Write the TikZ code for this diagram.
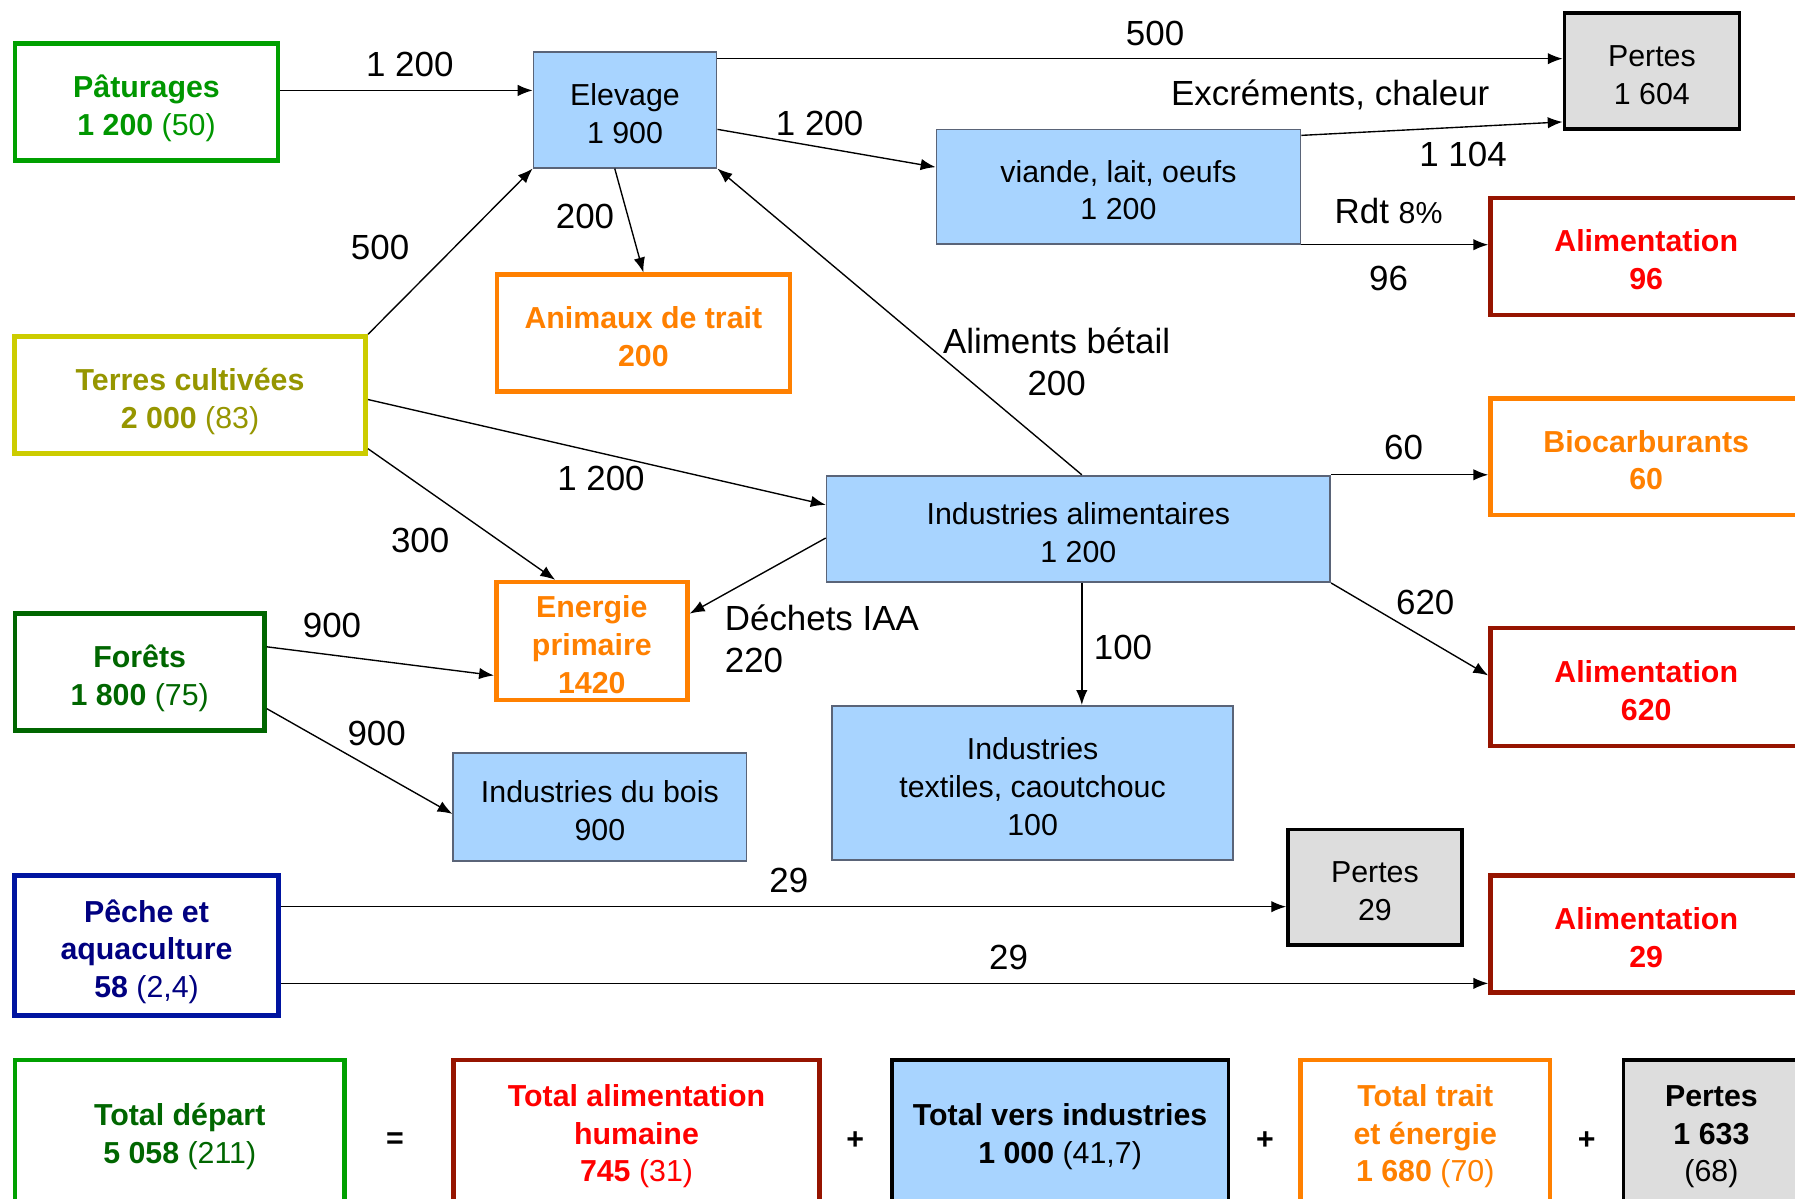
\documentclass[tikz,border=0pt]{standalone}
\usepackage{fontspec}
\setmainfont{Liberation Sans}
\usetikzlibrary{arrows.meta}
\definecolor{lblue}{RGB}{168,212,255}
\definecolor{bborder}{RGB}{90,100,120}
\definecolor{gpat}{RGB}{0,160,0}
\definecolor{gpattext}{RGB}{0,150,0}
\definecolor{olive1}{RGB}{204,204,0}
\definecolor{olivetext}{RGB}{150,150,0}
\definecolor{dgreen}{RGB}{0,102,0}
\definecolor{navyb}{RGB}{0,20,160}
\definecolor{navyt}{RGB}{0,0,128}
\definecolor{orng}{RGB}{255,128,0}
\definecolor{dred}{RGB}{150,20,0}
\definecolor{redt}{RGB}{255,0,0}
\definecolor{grayf}{RGB}{221,221,221}
\newcommand{\nfont}{\fontsize{26.5}{33}\selectfont}
\newcommand{\lfont}{\fontsize{30.5}{37}\selectfont}
\newcommand{\topstr}{\rule{0pt}{31pt}}
\newcommand{\botstr}{\rule[-6pt]{0pt}{0pt}}
\newcommand{\botstrB}{\rule[-20pt]{0pt}{0pt}}
\begin{document}
\begin{tikzpicture}[x=1pt,y=-1pt,
 bx/.style={rectangle, align=center, inner sep=0pt, font=\nfont},
 bluebox/.style={bx, draw=bborder, fill=lblue, line width=1.5pt},
 graybox/.style={bx, draw=black, fill=grayf, line width=3pt},
 colbox/.style={bx, draw=#1, line width=4pt, fill=white},
 lbl/.style={inner sep=0pt, font=\lfont},
 flow/.style={line width=1.2pt, -{Latex[length=13pt,width=10pt]}}
]
\useasboundingbox (0,0) rectangle (1568,1047);
\clip (0,0) rectangle (1568,1047);
\fill[white] (0,0) rectangle (1568,1047);

% boxes
\node[colbox=gpat, text=gpattext, minimum width=230pt, minimum height=102pt] (pat) at (128,89) {\topstr\bfseries Pâturages\\{\bfseries 1 200} (50)\botstr};
\node[bluebox, minimum width=160pt, minimum height=101pt] (elev) at (546,96) {\topstr Elevage\\1 900\botstr};
\node[graybox, minimum width=153pt, minimum height=101pt] (pertesA) at (1443,62) {\topstr Pertes\\1 604\botstr};
\node[bluebox, minimum width=318pt, minimum height=100pt] (viande) at (977,163) {\topstr viande, lait, oeufs\\1 200\botstr};
\node[colbox=dred, text=redt, minimum width=272pt, minimum height=102pt] (alimA) at (1438,224) {\topstr\bfseries Alimentation\\\bfseries 96\botstr};
\node[colbox=orng, text=orng, minimum width=256pt, minimum height=102pt] (anim) at (562,291) {\topstr\bfseries Animaux de trait\\\bfseries 200\botstr};
\node[colbox=olive1, text=olivetext, minimum width=307pt, minimum height=102pt] (terres) at (166,345) {\topstr\bfseries Terres cultivées\\{\bfseries 2 000} (83)\botstr};
\node[colbox=orng, text=orng, minimum width=272pt, minimum height=102pt] (bio) at (1438,399) {\topstr\bfseries Biocarburants\\\bfseries 60\botstr};
\node[bluebox, minimum width=440pt, minimum height=93pt] (ia) at (942,462) {\topstr Industries alimentaires\\1 200\botstr};
\node[colbox=orng, text=orng, minimum width=167pt, minimum height=102pt] (energ) at (517,560) {\topstr\bfseries Energie\\\bfseries primaire\\\bfseries 1420\botstr};
\node[colbox=dgreen, text=dgreen, minimum width=218pt, minimum height=102pt] (forets) at (122,587) {\topstr\bfseries Forêts\\{\bfseries 1 800} (75)\botstr};
\node[colbox=dred, text=redt, minimum width=272pt, minimum height=103pt] (alimB) at (1438,600) {\topstr\bfseries Alimentation\\\bfseries 620\botstr};
\node[bluebox, minimum width=256pt, minimum height=94pt] (bois) at (524,705) {\topstr Industries du bois\\900\botstr};
\node[bluebox, minimum width=350pt, minimum height=135pt] (textil) at (902,684) {\topstr Industries\\textiles, caoutchouc\\100\botstr};
\node[graybox, minimum width=152pt, minimum height=101pt] (pertesB) at (1201,775) {\topstr Pertes\\29\botstr};
\node[colbox=dred, text=redt, minimum width=272pt, minimum height=102pt] (alimC) at (1438,816) {\topstr\bfseries Alimentation\\\bfseries 29\botstr};
\node[colbox=navyb, text=navyt, minimum width=231pt, minimum height=122pt] (peche) at (128,826) {\topstr\bfseries Pêche et\\\bfseries aquaculture\\{\bfseries 58} (2,4)\botstr};

% bottom row
\node[colbox=gpat, text=dgreen, minimum width=288pt, minimum height=136pt] (totdep) at (157,994) {\topstr\bfseries Total départ\\{\bfseries 5 058} (211)\botstrB};
\node[bx, font=\nfont\bfseries] (eq) at (345,996) {=};
\node[colbox=dred, text=redt, minimum width=320pt, minimum height=136pt] (totalim) at (556,994) {\topstr\bfseries Total alimentation\\\bfseries humaine\\{\bfseries 745} (31)\botstrB};
\node[bx, font=\nfont\bfseries] (plA) at (747,996) {+};
\node[bx, draw=black, fill=lblue, line width=3pt, minimum width=294pt, minimum height=136pt] (totind) at (926,994) {\topstr\bfseries Total vers industries\\{\bfseries 1 000} (41,7)\botstrB};
\node[bx, font=\nfont\bfseries] (plB) at (1105,996) {+};
\node[colbox=orng, text=orng, minimum width=218pt, minimum height=136pt] (tottrait) at (1245,994) {\topstr\bfseries Total trait\\\bfseries et énergie\\{\bfseries 1 680} (70)\botstrB};
\node[bx, font=\nfont\bfseries] (plC) at (1386,996) {+};
\node[graybox, minimum width=154pt, minimum height=136pt] (pertesC) at (1495,994) {\topstr\bfseries Pertes\\\bfseries 1 633\\(68)\botstrB};

% connector anchors
\coordinate (c1) at ([yshift=10pt]pat.east);
\coordinate (c2) at ([yshift=-6.5pt]elev.north east);
\coordinate (c3a) at ([yshift=-17pt]elev.east);
\coordinate (c3b) at ([yshift=17pt]viande.west);
\coordinate (c4a) at ([yshift=-6pt]viande.north east);
\coordinate (c4b) at ([yshift=7.5pt]pertesA.south west);
\coordinate (c6a) at ([xshift=-9pt]elev.south);
\coordinate (c8) at ([xshift=3pt]ia.north);
\coordinate (c9a) at ([yshift=-4pt]terres.east);
\coordinate (c9b) at ([yshift=21pt]ia.west);
\coordinate (c10a) at ([yshift=6pt]terres.south east);
\coordinate (c10b) at ([xshift=-32pt]energ.north);
\coordinate (c11a) at ([yshift=-8pt]ia.west);
\coordinate (c11b) at ([yshift=24pt]energ.east);
\coordinate (c12a) at ([yshift=22pt]forets.east);
\coordinate (c12b) at ([yshift=-30pt]energ.west);
\coordinate (c13a) at ([yshift=-32pt]forets.east);
\coordinate (c13b) at ([yshift=-6pt]bois.west);
\coordinate (c15) at ([yshift=10pt]alimB.west);
\coordinate (c16) at ([xshift=3pt]ia.south);
\coordinate (c17) at ([yshift=34pt]peche.east);
\coordinate (c18) at ([yshift=-33pt]peche.east);

% connectors
\draw[flow] (c1) -- (c1 -| elev.west);
\draw[flow] (c2) -- (c2 -| pertesA.west);
\draw[flow] (c3a) -- (c3b);
\draw[flow] (c4a) -- (c4b);
\draw[flow] (viande.south east) -- (viande.south east -| alimA.west);
\draw[flow] (c6a) -- (anim.north);
\draw[flow] (terres.north east) -- (elev.south west);
\draw[flow] (c8) -- (elev.south east);
\draw[flow] (c9a) -- (c9b);
\draw[flow] (c10a) -- (c10b);
\draw[flow] (c11a) -- (c11b);
\draw[flow] (c12a) -- (c12b);
\draw[flow] (c13a) -- (c13b);
\draw[flow] (ia.north east) -- (ia.north east -| bio.west);
\draw[flow] (ia.south east) -- (c15);
\draw[flow] (c16) -- (c16 |- textil.north);
\draw[flow] (c17) -- (c17 -| pertesB.west);
\draw[flow] (c18) -- (c18 -| alimC.west);

% labels
\node[lbl] (l1) at (358,56) {1 200};
\node[lbl] (l2) at (1009,29) {500};
\node[lbl] (l3) at (716,108) {1 200};
\node[lbl] (l4) at (1162,83) {Excréments, chaleur};
\node[lbl] (l5) at (1278,135) {1 104};
\node[lbl] (l6) at (1213,184) {Rdt {\fontsize{26.5}{30}\selectfont 8\%}};
\node[lbl] (l7) at (1213,243) {96};
\node[lbl] (l8) at (511,189) {200};
\node[lbl] (l9) at (332,216) {500};
\node[lbl, align=center] (l10) at (923,316) {Aliments bétail\\200};
\node[lbl] (l11) at (525,418) {1 200};
\node[lbl] (l12) at (367,472) {300};
\node[lbl, align=left, anchor=west] (l13) at (633,558) {Déchets IAA\\220};
\node[lbl] (l14) at (290,546) {900};
\node[lbl] (l15) at (329,641) {900};
\node[lbl] (l16) at (1226,391) {60};
\node[lbl] (l17) at (1245,526) {620};
\node[lbl] (l18) at (981,566) {100};
\node[lbl] (l19) at (689,769) {29};
\node[lbl] (l20) at (881,836) {29};
\end{tikzpicture}
\end{document}
